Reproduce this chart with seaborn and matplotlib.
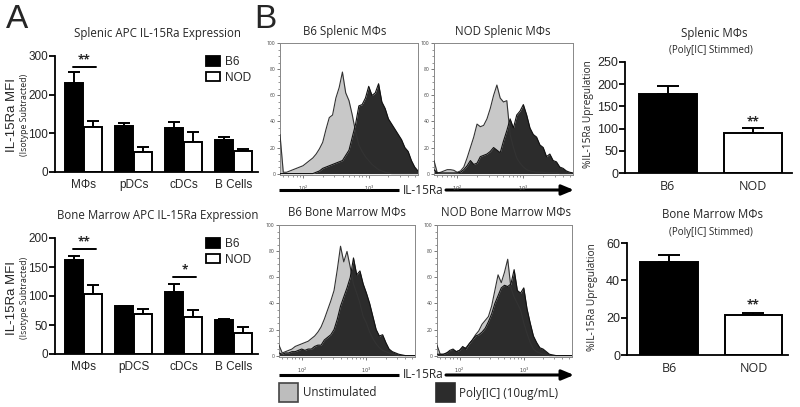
import numpy as np
import pandas as pd
import matplotlib
matplotlib.use("Agg")
import matplotlib.pyplot as plt
import matplotlib.patches as mpatches
from matplotlib.ticker import MultipleLocator, FixedLocator, NullFormatter
import seaborn as sns

# panel A - APC IL-15Ra MFI (isotype subtracted)
spl_cells = ["MΦs", "pDCs", "cDCs", "B Cells"]
bm_cells = ["MΦs", "pDCS", "cDCs", "B Cells"]
spl_b6 = [229, 120, 113, 84]
spl_b6_err = [29, 8, 17, 7]
spl_nod = [116, 51, 78, 54]
spl_nod_err = [17, 14, 26, 5]
bm_b6 = [162, 82, 107, 58]
bm_b6_err = [7, 1.5, 14, 3]
bm_nod = [103, 69, 63, 36]
bm_nod_err = [16, 9, 13, 10]
# significance: category index, bar height, label
spl_sig = [(0, 272, "**")]
bm_sig = [(0, 181, "**"), (2, 133, "*")]

# right panels - % upregulation after Poly[IC]
up_groups = ["B6", "NOD"]
spl_up = [178, 91]
spl_up_err = [18, 10]
spl_up_star = 101
bm_up = [49.7, 21.4]
bm_up_err = [4, 1.3]
bm_up_star = 23.5

# panel B - flow histograms, log10(IL-15Ra) channel vs % of max
log_bins = [1.65, 1.70, 1.75, 1.80, 1.85, 1.90, 1.95, 2.00, 2.05, 2.10, 2.15,
            2.20, 2.25, 2.30, 2.35, 2.40, 2.45, 2.50, 2.55, 2.60, 2.65, 2.70,
            2.75, 2.80, 2.85, 2.90, 2.95, 3.00, 3.05, 3.10, 3.15, 3.20, 3.25,
            3.30, 3.35, 3.40, 3.45, 3.50, 3.55, 3.60, 3.65, 3.70, 3.75]
b6_spl_unstim = [30, 1, 1, 2, 3, 4, 5, 6, 8, 10, 12, 15, 19, 24, 34, 43, 45, 58, 66, 78,
                 62, 56, 45, 32, 22, 17, 13, 10, 7, 5, 3, 2, 1, 0.5, 0, 0, 0, 0, 0, 0, 0, 0, 0]
b6_spl_poly = [0, 0, 0, 0, 0, 0, 0, 0, 0, 0, 0, 1, 2, 4, 5, 6, 7, 8, 9, 10, 14, 18,
               28, 38, 52, 53, 58, 67, 60, 62, 69, 55, 50, 42, 38, 34, 30, 26, 20, 17, 10, 5, 2]
nod_spl_unstim = [10, 0.5, 1, 2, 3, 3, 2.5, 1, 2, 5, 12, 20, 28, 38, 36, 37, 42, 50, 60, 68,
                  58, 55, 56, 30, 20, 12, 8, 5, 3, 2, 1.5, 1, 1, 1, 0.5, 0.5, 0.5, 0.5, 0, 0, 0, 0, 0]
nod_spl_poly = [3, 0.5, 0.5, 0.5, 0.5, 0.5, 0.5, 0.5, 1, 3, 6, 10, 7, 8, 13, 14, 15, 17, 20, 18,
                16, 25, 33, 42, 35, 45, 48, 53, 45, 35, 30, 28, 22, 20, 13, 15, 10, 9, 5, 4, 2, 1, 0.5]
b6_bm_unstim = [8, 2, 3, 4, 5, 7, 8, 9, 10, 11, 13, 15, 18, 22, 28, 35, 42, 50, 66, 84,
                72, 80, 68, 55, 48, 40, 30, 25, 18, 13, 9, 6, 4, 3, 2, 1, 0.5, 0, 0, 0, 0, 0, 0]
b6_bm_poly = [2, 1, 2, 2, 3, 3, 4, 5, 4, 5, 5, 7, 8, 8, 12, 14, 16, 20, 28, 38, 45, 52,
              60, 75, 62, 65, 55, 48, 40, 30, 20, 15, 16, 10, 5, 3, 2, 1, 0.5, 0, 0, 0, 0]
nod_bm_unstim = [8, 1, 1, 2, 3, 4, 3, 4, 6, 6, 9, 12, 16, 19, 24, 27, 30, 38, 50, 62,
                 56, 64, 74, 52, 45, 40, 35, 25, 17, 10, 5, 3, 2, 1, 0.5, 0, 0, 0, 0, 0, 0, 0, 0]
nod_bm_poly = [1, 1, 1, 2, 4, 5, 3, 4, 7, 5, 9, 12, 15, 16, 18, 21, 26, 32, 40, 46, 52, 54,
               53, 55, 66, 50, 48, 52, 36, 25, 15, 10, 6, 5, 3, 1, 0.5, 0, 0, 0, 0, 0, 0]

light = "#c8c8c8"
dark = "#2c2c2c"

sns.set_theme(style="ticks")
plt.rcParams["font.family"] = ["Open Sans", "DejaVu Sans"]
num_font = ["Liberation Sans", "DejaVu Sans"]

W, H = 800, 407
fig = plt.figure(figsize=(8, 4.07), dpi=100)


def px_axes(l, t, r, b):
    return fig.add_axes([l / W, 1 - b / H, (r - l) / W, (b - t) / H])


def apc_bars(ax, cells, b6, b6_err, nod, nod_err, ymax, step, sig):
    df = pd.DataFrame({"cell": cells * 2,
                       "strain": ["B6"] * len(cells) + ["NOD"] * len(cells),
                       "mfi": b6 + nod})
    sns.barplot(data=df, x="cell", y="mfi", hue="strain",
                palette={"B6": "black", "NOD": "white"}, saturation=1,
                edgecolor="black", linewidth=1.4, width=0.78, gap=0.09,
                legend=False, ax=ax, zorder=2)
    for cont, err in zip(ax.containers, [b6_err, nod_err]):
        xs = [p.get_x() + p.get_width() / 2 for p in cont]
        ys = [p.get_height() for p in cont]
        ax.errorbar(xs, ys, yerr=[np.zeros(len(err)), err], fmt="none",
                    ecolor="black", elinewidth=1.4, capsize=4.5, capthick=1.4, zorder=1)
    for i, h, lab in sig:
        ax.plot([i - 0.21, i + 0.25], [h, h], color="black", lw=1.4)
        ax.text(i + 0.02, h + ymax * 0.005, lab, ha="center", va="bottom", fontsize=8.5,
                fontweight="bold")
    ax.set_xlim(-0.57, 3.49)
    ax.set_ylim(0, ymax)
    ax.set_yticks(range(0, ymax + 1, step))
    ax.set_xlabel("")
    ax.set_ylabel("")
    sns.despine(ax=ax)
    for s in ["left", "bottom"]:
        ax.spines[s].set_linewidth(1.3)
        ax.spines[s].set_color("black")
    ax.tick_params(axis="x", length=0, pad=5, labelsize=8.5)
    ax.tick_params(axis="y", length=4, width=1.3, pad=1, labelsize=8.5, color="black")
    for t in ax.get_xticklabels() + ax.get_yticklabels():
        t.set_family(num_font)
    handles = [mpatches.Patch(facecolor="black", edgecolor="black", lw=1.3, label="B6"),
               mpatches.Patch(facecolor="white", edgecolor="black", lw=1.3, label="NOD")]
    ax.legend(handles=handles, loc="upper left", bbox_to_anchor=(0.745, 1.0),
              frameon=False, handlelength=1.15, handleheight=0.9,
              handletextpad=0.45, labelspacing=0.3, borderpad=0, borderaxespad=0,
              prop={"family": num_font, "size": 8.5})


def up_bars(ax, vals, errs, star, ymax, step, xmax):
    sns.barplot(x=up_groups, y=vals, hue=up_groups, palette=["black", "white"],
                saturation=1, edgecolor="black", linewidth=1.4, width=0.68,
                legend=False, ax=ax, zorder=2)
    xs = [p.get_x() + p.get_width() / 2 for p in ax.patches]
    ys = [p.get_height() for p in ax.patches]
    ax.errorbar(xs, ys, yerr=[np.zeros(len(errs)), errs], fmt="none", ecolor="black",
                elinewidth=1.4, capsize=8, capthick=1.4, zorder=1)
    ax.text(1, star, "**", ha="center", va="bottom", fontsize=8.5, fontweight="bold")
    ax.set_xlim(-0.5, xmax)
    ax.set_ylim(0, ymax)
    ax.set_yticks(range(0, ymax + 1, step))
    sns.despine(ax=ax)
    for s in ["left", "bottom"]:
        ax.spines[s].set_linewidth(1.3)
        ax.spines[s].set_color("black")
    ax.tick_params(axis="x", length=0, pad=5, labelsize=9)
    ax.tick_params(axis="y", length=4, width=1.3, pad=1, labelsize=9, color="black")
    for t in ax.get_yticklabels():
        t.set_family(num_font)


def flow_panel(ax, unstim, poly):
    x = 10 ** np.array(log_bins)
    ax.fill_between(x, unstim, color=light, lw=0, zorder=1)
    ax.fill_between(x, poly, color=dark, lw=0, zorder=2)
    sns.lineplot(x=x, y=unstim, color="#333333", lw=0.8, ax=ax, zorder=3)
    sns.lineplot(x=x, y=poly, color="#111111", lw=0.8, ax=ax, zorder=3)
    ax.set_xscale("log")
    ax.set_xlim(10 ** log_bins[0], 10 ** log_bins[-1])
    ax.set_ylim(-1.1, 100.3)
    ax.yaxis.set_major_locator(MultipleLocator(20))
    ax.yaxis.set_minor_locator(MultipleLocator(5))
    ax.xaxis.set_major_locator(FixedLocator([100, 1000]))
    ax.xaxis.set_minor_locator(FixedLocator([50, 60, 70, 80, 90, 200, 300, 400, 500,
                                             600, 700, 800, 900, 2000, 3000, 4000, 5000]))
    ax.xaxis.set_minor_formatter(NullFormatter())
    ax.set_xticklabels(["$10^2$", "$10^3$"])
    ax.tick_params(axis="both", which="major", length=2.2, width=0.5, labelsize=3.6,
                   pad=1, color="#444444", labelcolor="#444444")
    ax.tick_params(axis="both", which="minor", length=1.2, width=0.4, color="#444444")
    ax.tick_params(axis="x", which="major", pad=4)
    for s in ax.spines.values():
        s.set_linewidth(0.7)
        s.set_color("#888888")
    ax.set_facecolor("white")
    ax.grid(False)


# panel A
ax_a1 = px_axes(55, 56, 258, 172)
apc_bars(ax_a1, spl_cells, spl_b6, spl_b6_err, spl_nod, spl_nod_err, 300, 100, spl_sig)
ax_a2 = px_axes(55, 238, 258, 354)
apc_bars(ax_a2, bm_cells, bm_b6, bm_b6_err, bm_nod, bm_nod_err, 200, 50, bm_sig)

# panel B
flow_panel(px_axes(280, 43, 418, 175), b6_spl_unstim, b6_spl_poly)
flow_panel(px_axes(434, 43, 573, 175), nod_spl_unstim, nod_spl_poly)
flow_panel(px_axes(279, 225, 415, 357), b6_bm_unstim, b6_bm_poly)
flow_panel(px_axes(437, 225, 572, 357), nod_bm_unstim, nod_bm_poly)

# right panels
up_bars(px_axes(625, 62, 792, 173), spl_up, spl_up_err, spl_up_star, 250, 50, 1.46)
up_bars(px_axes(627, 243, 788, 355), bm_up, bm_up_err, bm_up_star, 60, 20, 1.41)

# overlay in pixel units for labels, arrows and the flow legend
ov = fig.add_axes([0, 0, 1, 1], zorder=-1)
ov.set_xlim(0, W)
ov.set_ylim(H, 0)
ov.axis("off")

ov.text(17, 19, "A", fontsize=24, ha="center", va="center", family=num_font)
ov.text(265, 19, "B", fontsize=24, ha="center", va="center", family=num_font)

ov.text(157, 33, "Splenic APC IL-15Ra Expression", fontsize=8.3, ha="center", va="center")
ov.text(158, 215, "Bone Marrow APC IL-15Ra Expression", fontsize=8.3, ha="center", va="center")
for yc in [115, 298]:
    ov.text(12, yc, "IL-15Ra MFI", fontsize=9.5, rotation=90, ha="center", va="center",
            family=num_font)
    ov.text(25, yc, "(Isotype Subtracted)", fontsize=6.3, rotation=90, ha="center", va="center")

ov.text(345, 32, "B6 Splenic MΦs", fontsize=8.3, ha="center", va="center")
ov.text(503, 32, "NOD Splenic MΦs", fontsize=8.3, ha="center", va="center")
ov.text(347, 212, "B6 Bone Marrow MΦs", fontsize=8.3, ha="center", va="center")
ov.text(506, 212, "NOD Bone Marrow MΦs", fontsize=8.3, ha="center", va="center")

for yc in [190, 375]:
    ov.plot([279, 399], [yc, yc], color="black", lw=2.2, solid_capstyle="butt")
    ov.annotate("", xy=(574, yc), xytext=(446, yc),
                arrowprops=dict(arrowstyle="-|>,head_length=0.6,head_width=0.25",
                                color="black", lw=2.2, shrinkA=0, shrinkB=0))
    ov.text(423, yc, "IL-15Ra", fontsize=8.6, ha="center", va="center")

ov.add_patch(mpatches.Rectangle((279, 383), 19, 19, facecolor="#bdbdbd",
                                edgecolor="#444444", lw=1.2))
ov.text(303, 393, "Unstimulated", fontsize=8.4, ha="left", va="center")
ov.add_patch(mpatches.Rectangle((436, 383), 19, 19, facecolor=dark, edgecolor=dark, lw=1.2))
ov.text(459, 393, "Poly[IC] (10ug/mL)", fontsize=8.4, ha="left", va="center")

ov.text(714, 33, "Splenic MΦs", fontsize=8.3, ha="center", va="center")
ov.text(711, 50, "(Poly[IC] Stimmed)", fontsize=7, ha="center", va="center")
ov.text(712, 215, "Bone Marrow MΦs", fontsize=8.3, ha="center", va="center")
ov.text(711, 232, "(Poly[IC] Stimmed)", fontsize=7, ha="center", va="center")
ov.text(589, 114, "%IL-15Ra Upregulation", fontsize=7.3, rotation=90, ha="center", va="center")
ov.text(592, 297, "%IL-15Ra Upregulation", fontsize=7.3, rotation=90, ha="center", va="center")

fig.savefig("out.png", dpi=100, facecolor="white")
